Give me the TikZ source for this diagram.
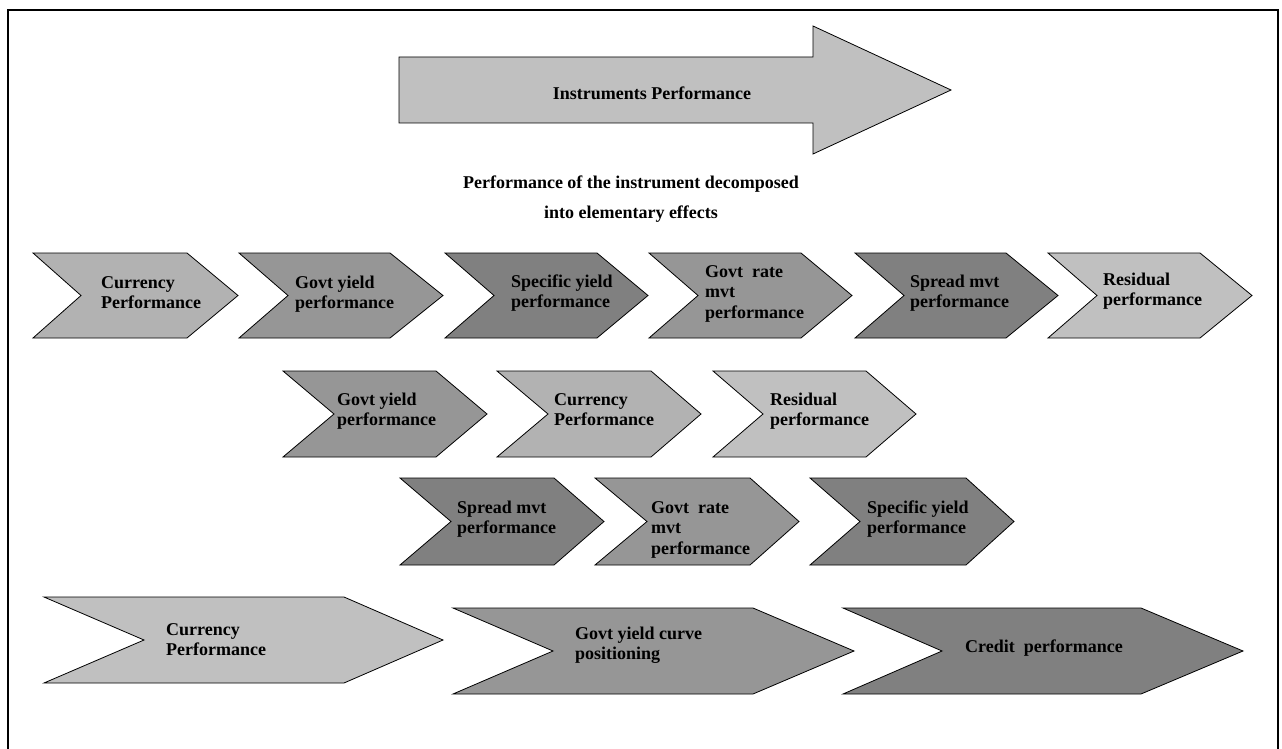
\documentclass[tikz,border=0pt]{standalone}
\usepackage{fontspec}
\setmainfont{Liberation Serif}
\definecolor{silver}{HTML}{C0C0C0}
\definecolor{lgray}{HTML}{B2B2B2}
\definecolor{mgray}{HTML}{969696}
\definecolor{dgray}{HTML}{808080}
\newcommand{\lbl}[1]{\begin{tabular}[t]{@{}l@{}}#1\end{tabular}}
\tikzset{
  chev/.style={draw=black, line width=0.8pt, line join=miter},
  txt/.style={anchor=base west, inner sep=0pt, font=\fontsize{18}{20.5}\selectfont\bfseries},
  frame/.style={draw=black, line width=2pt}
}
% #1 left, #2 notch x, #3 corner x, #4 tip x, #5 top, #6 bottom, #7 colour
\newcommand{\chevron}[7]{%
  \path[chev, fill=#7] (#1,#5) -- (#3,#5) -- (#4,{(#5+#6)/2}) -- (#3,#6) -- (#1,#6) -- (#2,{(#5+#6)/2}) -- cycle;}
\begin{document}
\begin{tikzpicture}[x=1pt, y=-1pt]
\useasboundingbox (0,0) rectangle (1282,749);
\fill[white] (0,0) rectangle (1282,749);
% frame (bottom edge lies outside the picture)
\draw[frame] (8,749) -- (8,10) -- (1278,10) -- (1278,749);

% big arrow
\path[chev, fill=silver] (399,57) -- (813,57) -- (813,26) -- (951,90) -- (813,154) -- (813,123) -- (399,123) -- cycle;
\node[txt, anchor=base] (instr) at (652,100) {Instruments Performance};

% title
\node[txt, anchor=base] (title) at (631,188) {\begin{tabular}[t]{@{}c@{}}Performance of the instrument decomposed\\[9.5pt] into elementary effects\end{tabular}};

% row 1
\chevron{33}{81}{187}{238}{253}{338}{lgray}
\chevron{239}{288}{390}{443}{253}{338}{mgray}
\chevron{445}{494}{597}{648}{253}{338}{dgray}
\chevron{649}{698}{801}{852}{253}{338}{mgray}
\chevron{855}{904}{1006}{1058}{253}{338}{dgray}
\chevron{1048}{1097}{1200}{1252}{253}{338}{silver}
\node[txt] (r1a) at (101,288) {\lbl{Currency\\Performance}};
\node[txt] (r1b) at (295,288) {\lbl{Govt yield\\performance}};
\node[txt] (r1c) at (511,287) {\lbl{Specific yield\\performance}};
\node[txt] (r1d) at (705,277) {\lbl{Govt\ \ rate\\mvt\\performance}};
\node[txt] (r1e) at (910,287) {\lbl{Spread mvt\\performance}};
\node[txt] (r1f) at (1103,285) {\lbl{Residual\\performance}};

% row 2
\chevron{283}{334}{436}{487}{371}{457}{mgray}
\chevron{497}{548}{651}{701}{371}{457}{lgray}
\chevron{713}{763}{866}{916}{371}{457}{silver}
\node[txt] (r2a) at (337,405) {\lbl{Govt yield\\performance}};
\node[txt] (r2b) at (554,405) {\lbl{Currency\\Performance}};
\node[txt] (r2c) at (770,405) {\lbl{Residual\\performance}};

% row 3
\chevron{400}{451}{554}{604}{478}{565}{dgray}
\chevron{595}{647}{750}{799}{478}{565}{mgray}
\chevron{810}{860}{966}{1014}{478}{565}{dgray}
\node[txt] (r3a) at (457,513) {\lbl{Spread mvt\\performance}};
\node[txt] (r3b) at (651,513) {\lbl{Govt\ \ rate\\mvt\\performance}};
\node[txt] (r3c) at (867,513) {\lbl{Specific yield\\performance}};

% row 4
\chevron{44}{144}{344}{443}{597}{683}{silver}
\chevron{453}{553}{753}{854}{608}{694}{mgray}
\chevron{843}{942}{1141}{1243}{608}{694}{dgray}
\node[txt] (r4a) at (166,635) {\lbl{Currency\\Performance}};
\node[txt] (r4b) at (575,639) {\lbl{Govt yield curve\\positioning}};
\node[txt] (r4c) at (965,652) {Credit\ \ performance};
\end{tikzpicture}
\end{document}
